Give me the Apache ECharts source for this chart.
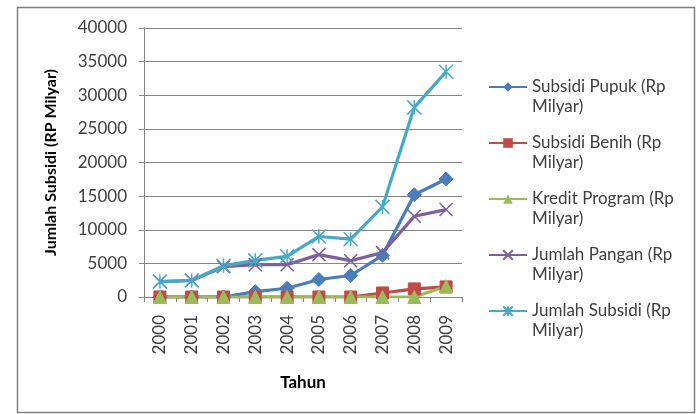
<!DOCTYPE html>
<html><head><meta charset="utf-8">
<script src="https://cdn.jsdelivr.net/npm/echarts@6/dist/echarts.min.js"></script>
<style>html,body{margin:0;padding:0;background:#fff}#c{width:700px;height:414px}</style>
</head><body><div id="c"></div>
<script>
var years = ['2000','2001','2002','2003','2004','2005','2006','2007','2008','2009'];
var subsidiPupuk   = [0, 0, 0, 800, 1300, 2600, 3200, 6200, 15200, 17550];
var subsidiBenih   = [0, 0, 0, 0, 0, 0, 0, 600, 1200, 1500];
var kreditProgram  = [0, 0, 0, 0, 0, 0, 0, 0, 0, 1600];
var jumlahPangan   = [2300, 2450, 4500, 4800, 4800, 6300, 5400, 6600, 12000, 13000];
var jumlahSubsidi  = [2300, 2450, 4650, 5450, 6050, 9000, 8600, 13400, 28200, 33500];
var seriesNames = ['Subsidi Pupuk (Rp Milyar)','Subsidi Benih (Rp Milyar)','Kredit Program (Rp Milyar)','Jumlah Pangan (Rp Milyar)','Jumlah Subsidi (Rp Milyar)'];
var yTicks = [0,5000,10000,15000,20000,25000,30000,35000,40000];

var FONT = 'Lato';
var chart = echarts.init(document.getElementById('c'));
function mk(name, data, color, symbol, size, stroke) {
  return {
    name: name, type: 'line', data: data, symbol: symbol, symbolSize: size,
    showSymbol: true,
    lineStyle: {color: color, width: 3.2},
    itemStyle: stroke ? {color: color, borderColor: color, borderWidth: 1.5} : {color: color, borderColor: color},
    emphasis: {disabled: true}, animation: false
  };
}
chart.setOption({
  animation: false,
  textStyle: {fontFamily: FONT},
  graphic: [{type: 'rect', shape: {x: 17.5, y: 7.5, width: 677, height: 405}, style: {fill: 'none', stroke: '#808080', lineWidth: 1.5}, z: -1}],
  grid: {left: 144, right: 238, top: 28, bottom: 117},
  legend: {
    orient: 'vertical', left: 488, top: 57, padding: 0, itemWidth: 38, itemHeight: 12, itemGap: -4,
    textStyle: {fontFamily: FONT, fontSize: 17, color: '#404040', lineHeight: 20},
    formatter: function (n) { return '\n' + n.replace(' Milyar)', '\nMilyar)'); },
    data: seriesNames
  },
  xAxis: {
    type: 'category', data: years, boundaryGap: true,
    name: 'Tahun', nameLocation: 'middle', nameGap: 77,
    nameTextStyle: {fontFamily: FONT, fontSize: 17, fontWeight: 'bold', color: '#000'},
    axisLine: {lineStyle: {color: '#868686', width: 1}},
    axisTick: {show: true, alignWithLabel: false, length: 5, lineStyle: {color: '#868686'}},
    axisLabel: {rotate: 90, fontSize: 17, color: '#404040', fontFamily: FONT, margin: 18}
  },
  yAxis: {
    type: 'value', min: 0, max: 40000, interval: 5000,
    name: 'Jumlah Subsidi (RP Milyar)', nameLocation: 'middle', nameGap: 85, nameRotate: 90,
    nameTextStyle: {fontFamily: FONT, fontSize: 16, fontWeight: 'bold', color: '#000'},
    axisLine: {show: true, lineStyle: {color: '#868686', width: 1}},
    axisTick: {show: true, length: 5, lineStyle: {color: '#868686'}},
    splitLine: {lineStyle: {color: '#868686', width: 1}},
    axisLabel: {fontSize: 17, color: '#404040', fontFamily: FONT, margin: 17,
      formatter: function (v) { return yTicks.indexOf(v) >= 0 ? String(v) : ''; }}
  },
  series: [
    mk(seriesNames[0], subsidiPupuk, '#4A7EBB', 'diamond', 14),
    mk(seriesNames[1], subsidiBenih, '#BE4B48', 'rect', 12),
    mk(seriesNames[2], kreditProgram, '#9BBB59', 'triangle', 13),
    mk(seriesNames[3], jumlahPangan, '#7D60A0', 'path://M0,0L10,10M10,0L0,10', 13, true),
    mk(seriesNames[4], jumlahSubsidi, '#46AAC5', 'path://M0,0L10,10M10,0L0,10M5,0L5,10', 14, true)
  ]
});
</script></body></html>
